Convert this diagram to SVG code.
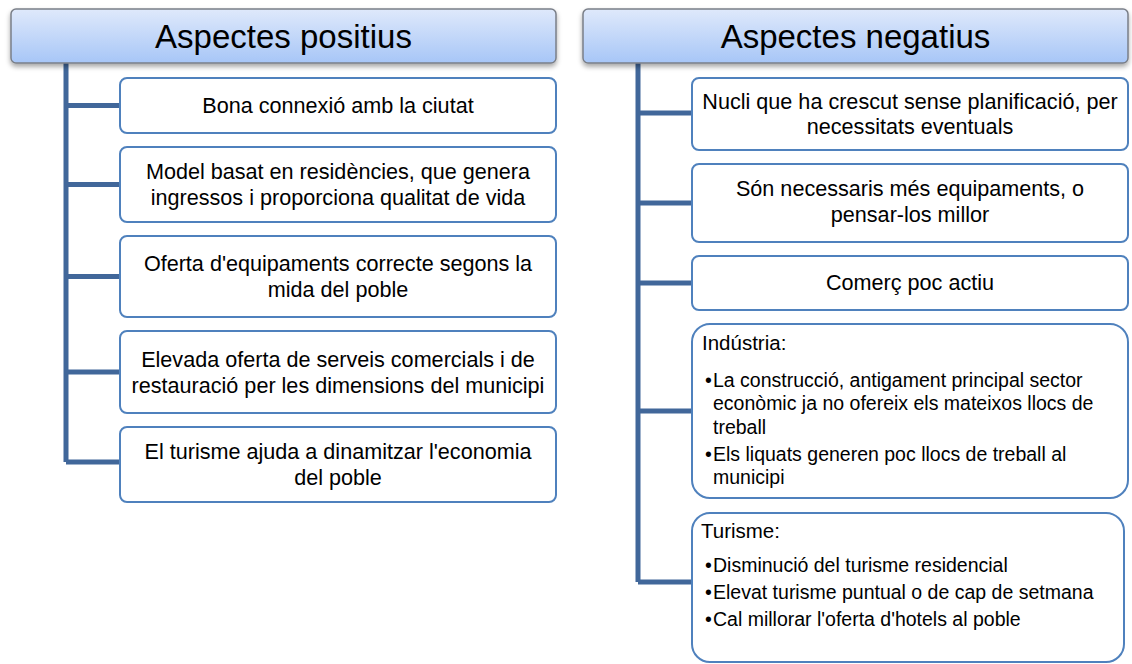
<svg xmlns="http://www.w3.org/2000/svg" width="1132" height="664" viewBox="0 0 1132 664">
<defs>
<linearGradient id="hdr" x1="0" y1="0" x2="0" y2="1">
<stop offset="0" stop-color="#dfe9fb"/>
<stop offset="1" stop-color="#a7c6f7"/>
</linearGradient>
<filter id="sh" x="-5%" y="-20%" width="110%" height="160%">
<feDropShadow dx="0" dy="3" stdDeviation="2.5" flood-color="#000" flood-opacity="0.35"/>
</filter>
<style>
.hdr{fill:url(#hdr);stroke:#7a7f88;stroke-width:1.5;filter:url(#sh)}
.box{fill:#fff;stroke:#4f81bd;stroke-width:2}
.ht{font-family:"Liberation Sans",Arial,sans-serif;font-size:33px;fill:#000;text-anchor:middle}
.t{font-family:"Liberation Sans",Arial,sans-serif;font-size:21.6px;fill:#000;text-anchor:middle}
.l{font-family:"Liberation Sans",Arial,sans-serif;font-size:20.5px;fill:#000}
.b{font-family:"Liberation Sans",Arial,sans-serif;font-size:19.5px;fill:#000}
.con{fill:none;stroke:#41679a;stroke-width:5;stroke-linejoin:round}
</style>
</defs>
<rect width="1132" height="664" fill="#fff"/>

<g id="connectors">
<path class="con" d="M66,63 V462 M66,105.5 H120 M66,184.5 H120 M66,276.5 H120 M66,372 H120 M66,462 H120"/>
<path class="con" d="M638,63 V582 M638,113 H692 M638,203 H692 M638,283 H692 M638,411 H692 M638,582 H692"/>
</g>

<g id="hdr-pos">
<rect class="hdr" x="11" y="9" width="545" height="54" rx="5"/>
<text class="ht" x="283.5" y="48">Aspectes positius</text>
</g>
<g id="hdr-neg">
<rect class="hdr" x="583" y="9" width="545" height="54" rx="5"/>
<text class="ht" x="855.5" y="48">Aspectes negatius</text>
</g>

<g id="p1">
<rect class="box" x="120" y="78" width="436" height="55" rx="7"/>
<text class="t" x="338" y="113">Bona connexió amb la ciutat</text>
</g>
<g id="p2">
<rect class="box" x="120" y="147" width="436" height="75" rx="7"/>
<text class="t" x="338" y="179">Model basat en residències, que genera</text>
<text class="t" x="338" y="205">ingressos i proporciona qualitat de vida</text>
</g>
<g id="p3">
<rect class="box" x="120" y="236" width="436" height="81" rx="7"/>
<text class="t" x="338" y="271">Oferta d'equipaments correcte segons la</text>
<text class="t" x="338" y="297">mida del poble</text>
</g>
<g id="p4">
<rect class="box" x="120" y="331" width="436" height="82" rx="7"/>
<text class="t" x="338" y="366.5">Elevada oferta de serveis comercials i de</text>
<text class="t" x="338" y="392.5">restauració per les dimensions del municipi</text>
</g>
<g id="p5">
<rect class="box" x="120" y="427" width="436" height="75" rx="7"/>
<text class="t" x="338" y="459">El turisme ajuda a dinamitzar l'economia</text>
<text class="t" x="338" y="485">del poble</text>
</g>

<g id="n1">
<rect class="box" x="692" y="78" width="436" height="72" rx="7"/>
<text class="t" x="910" y="108.5">Nucli que ha crescut sense planificació, per</text>
<text class="t" x="910" y="134">necessitats eventuals</text>
</g>
<g id="n2">
<rect class="box" x="692" y="164" width="436" height="78" rx="7"/>
<text class="t" x="910" y="196">Són necessaris més equipaments, o</text>
<text class="t" x="910" y="222">pensar-los millor</text>
</g>
<g id="n3">
<rect class="box" x="692" y="256" width="436" height="54" rx="7"/>
<text class="t" x="910" y="290">Comerç poc actiu</text>
</g>
<g id="n4">
<rect class="box" x="692" y="324" width="436" height="174" rx="18"/>
<text class="l" x="702" y="350">Indústria:</text>
<text class="b" x="705" y="387">•</text>
<text class="b" x="713" y="387">La construcció, antigament principal sector</text>
<text class="b" x="713" y="410">econòmic ja no ofereix els mateixos llocs de</text>
<text class="b" x="713" y="434">treball</text>
<text class="b" x="705" y="461">•</text>
<text class="b" x="713" y="461">Els liquats generen poc llocs de treball al</text>
<text class="b" x="713" y="484">municipi</text>
</g>
<g id="n5">
<rect class="box" x="692" y="513" width="432" height="149" rx="18"/>
<text class="l" x="701" y="538">Turisme:</text>
<text class="b" x="705" y="572">•</text>
<text class="b" x="713" y="572">Disminució del turisme residencial</text>
<text class="b" x="705" y="599">•</text>
<text class="b" x="713" y="599">Elevat turisme puntual o de cap de setmana</text>
<text class="b" x="705" y="626">•</text>
<text class="b" x="713" y="626">Cal millorar l'oferta d'hotels al poble</text>
</g>
</svg>
